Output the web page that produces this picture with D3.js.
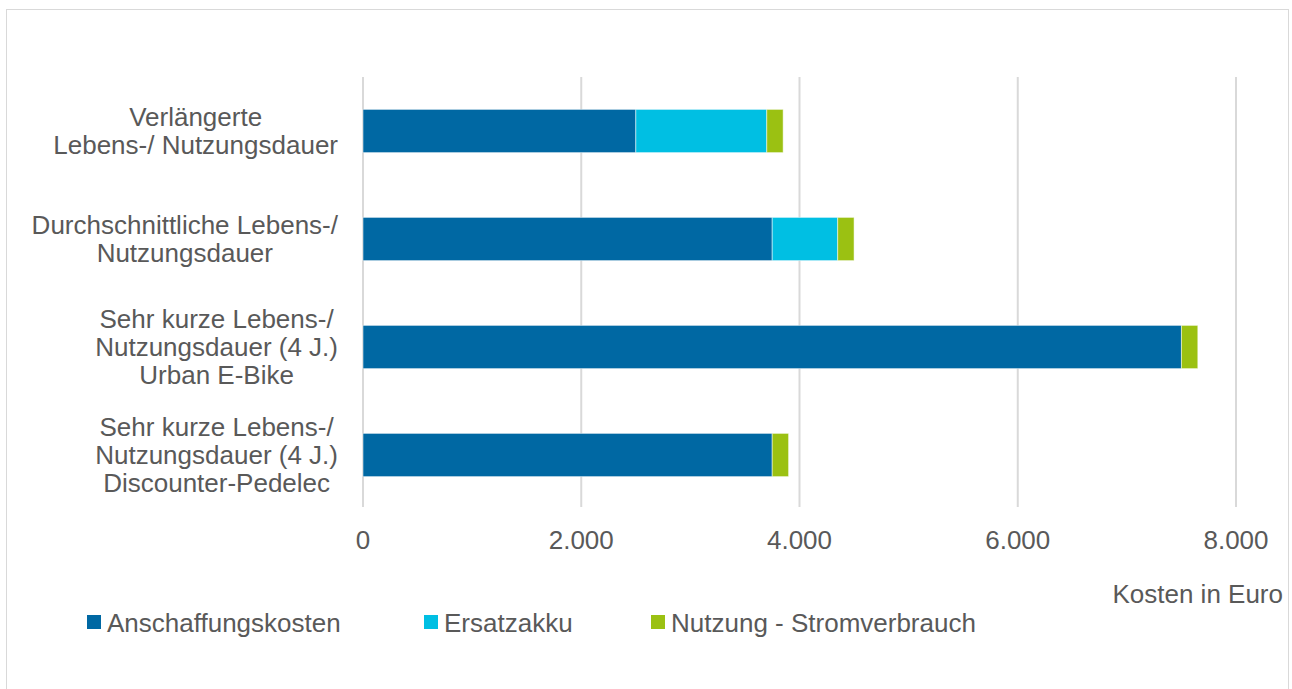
<!DOCTYPE html>
<html>
<head>
<meta charset="utf-8">
<script src="https://cdn.jsdelivr.net/npm/d3@7"></script>
<style>
  body { margin: 0; background: #fff; }
  text { font-family: "Liberation Sans", Arial, sans-serif; fill: #595959; }
</style>
</head>
<body>
<div id="chart"></div>
<script>
// categories, top to bottom
var categories = [
  ["Verlängerte", "Lebens-/ Nutzungsdauer"],
  ["Durchschnittliche Lebens-/", "Nutzungsdauer"],
  ["Sehr kurze Lebens-/", "Nutzungsdauer (4 J.)", "Urban E-Bike"],
  ["Sehr kurze Lebens-/", "Nutzungsdauer (4 J.)", "Discounter-Pedelec"]
];
var seriesNames = ["Anschaffungskosten", "Ersatzakku", "Nutzung - Stromverbrauch"];
var anschaffung = [2500, 3750, 7500, 3750];
var ersatzakku = [1200, 600, 0, 0];
var nutzung = [150, 150, 150, 150];
var tickValues = [0, 2000, 4000, 6000, 8000];
var colors = ["#0068A3", "#00BFE3", "#9BC112"];

var width = 1292, height = 689;
var plot = {left: 363, right: 1236, top: 77, bottom: 509};

var svg = d3.select("#chart").append("svg")
    .attr("width", width)
    .attr("height", height);

// outer frame
svg.append("rect")
    .attr("x", 6.5).attr("y", 9.5)
    .attr("width", 1282).attr("height", 690)
    .attr("fill", "none")
    .attr("stroke", "#d9d9d9");

var x = d3.scaleLinear().domain([0, 8000]).range([plot.left, plot.right]);
var y = d3.scaleBand().domain(d3.range(categories.length))
    .range([plot.top, plot.bottom]).paddingInner(0.6).paddingOuter(0.3);

// gridlines
svg.append("g").selectAll("line")
    .data(tickValues)
    .enter().append("line")
    .attr("x1", function (d) {return x(d);})
    .attr("x2", function (d) {return x(d);})
    .attr("y1", plot.top)
    .attr("y2", plot.bottom - 2)
    .attr("stroke", "#d9d9d9")
    .attr("stroke-width", 2);

// tick labels
var fmt = function (d) {return d3.format(",")(d).replace(/,/g, ".");};
svg.append("g").selectAll("text")
    .data(tickValues)
    .enter().append("text")
    .attr("x", function (d) {return x(d);})
    .attr("y", 549)
    .attr("text-anchor", "middle")
    .style("font-size", "26px")
    .text(fmt);

// stacked bars
var rows = categories.map(function (c, i) {
  return {i: i, a: anschaffung[i], e: ersatzakku[i], n: nutzung[i]};
});
var stack = d3.stack().keys(["a", "e", "n"]);
var layers = stack(rows);

svg.append("g").selectAll("g")
    .data(layers)
    .enter().append("g")
    .attr("fill", function (d, i) {return colors[i];})
    .selectAll("rect")
    .data(function (d) {return d.filter(function (s) {return s[1] > s[0];});})
    .enter().append("rect")
    .attr("x", function (d) {return x(d[0]);})
    .attr("width", function (d) {return x(d[1]) - x(d[0]);})
    .attr("y", function (d) {return y(d.data.i);})
    .attr("height", y.bandwidth())
    .attr("stroke", "rgba(255,255,255,0.5)")
    .attr("stroke-width", 1);

// category labels: lines centred in a block right-aligned at 338
var lineH = 28;
var labelG = svg.append("g");
categories.forEach(function (lines, i) {
  var cy = y(i) + y.bandwidth() / 2;
  var t = labelG.append("text")
      .attr("text-anchor", "middle")
      .style("font-size", "26px");
  var spans = lines.map(function (ln, k) {
    return t.append("tspan")
        .attr("y", cy + (k - (lines.length - 1) / 2) * lineH + 9)
        .text(ln);
  });
  var maxW = d3.max(spans, function (s) {return s.node().getComputedTextLength();});
  spans.forEach(function (s) {s.attr("x", 338 - maxW / 2);});
});

// axis title
svg.append("text")
    .attr("x", 1283)
    .attr("y", 603)
    .attr("text-anchor", "end")
    .style("font-size", "26px")
    .text("Kosten in Euro");

// legend
var legendX = [87, 424, 651];
var legend = svg.append("g").selectAll("g")
    .data(seriesNames)
    .enter().append("g")
    .attr("transform", function (d, i) {return "translate(" + legendX[i] + ",615)";});
legend.append("rect")
    .attr("width", 14).attr("height", 14)
    .attr("fill", function (d, i) {return colors[i];});
legend.append("text")
    .attr("x", 20)
    .attr("y", 17)
    .style("font-size", "26px")
    .text(function (d) {return d;});
</script>
</body>
</html>
